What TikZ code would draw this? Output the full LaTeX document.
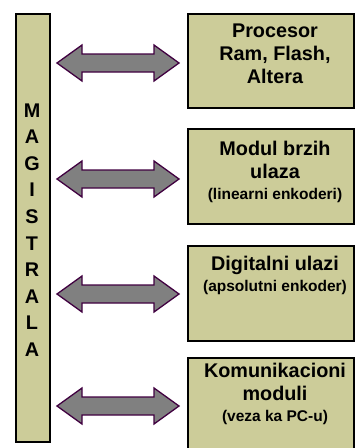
\documentclass[tikz,border=0pt]{standalone}
\usepackage{fontspec}
\setmainfont{Liberation Sans}
\definecolor{khaki}{HTML}{CCCC99}
\definecolor{plum}{HTML}{400040}
\definecolor{shaftgray}{HTML}{808080}
\newcommand\subnote[1]{{\fontsize{15.5}{20}\selectfont #1}}
\tikzset{
  panel/.style={draw=black, line width=1.8pt, fill=khaki, inner sep=0pt, anchor=north west},
  caption/.style={anchor=north, align=center, inner sep=0pt, font=\bfseries\fontsize{19.8}{22.8}\selectfont},
  arrowbody/.style={draw=plum, fill=shaftgray, line width=1.3pt, line join=miter},
  busarrow/.pic={
    \path[arrowbody] (-61,0) -- (-36,-18) -- (-36,-9) -- (36,-9) -- (36,-18)
      -- (61,0) -- (36,18) -- (36,9) -- (-36,9) -- (-36,18) -- cycle;
  }
}
\begin{document}
\begin{tikzpicture}[x=1pt, y=-1pt]
  \useasboundingbox (0,0) rectangle (355,448);
  \clip (0,0) rectangle (355,448);

  % bus bar
  \node[panel, minimum width=34, minimum height=428] (bus) at (15,13) {};
  \node[align=center, inner sep=0pt, font=\bfseries\fontsize{19.8}{26.6}\selectfont] (busname)
    at (32,230) {M\\A\\G\\I\\S\\T\\R\\A\\L\\A};

  % module boxes
  \node[panel, minimum width=166, minimum height=94] (cpu) at (187,13) {};
  \node[panel, minimum width=166, minimum height=95] (fast) at (187,128) {};
  \node[panel, minimum width=166, minimum height=95] (dig) at (187,245) {};
  \node[panel, minimum width=166, minimum height=100] (com) at (187,357) {};

  \node[caption] (cputxt) at (275,24) {Procesor\\Ram, Flash,\\Altera};
  \node[caption] (fasttxt) at (275,141) {Modul brzih\\ulaza\\[-2pt]\subnote{(linearni enkoderi)}};
  \node[caption] (digtxt) at (275,256) {Digitalni ulazi\\[-2pt]\subnote{(apsolutni enkoder)}};
  \node[caption] (comtxt) at (275,363) {Komunikacioni\\moduli\\[-2pt]\subnote{(veza ka PC-u)}};

  % bus connections
  \foreach \y in {63,179,294,406}
    \pic at (118,\y) {busarrow};
\end{tikzpicture}
\end{document}
